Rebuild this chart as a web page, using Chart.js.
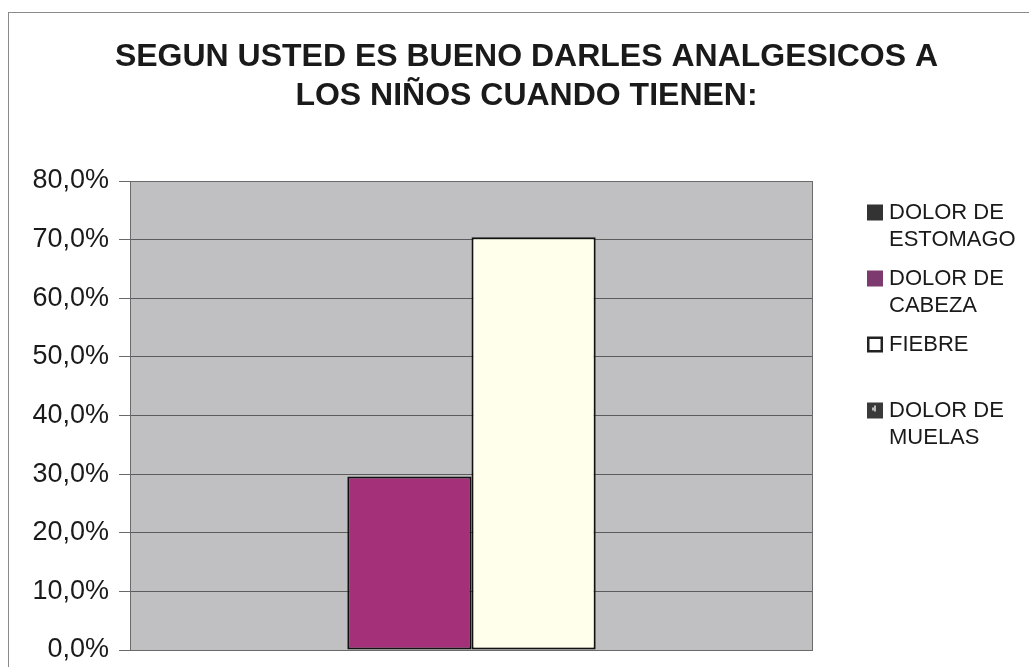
<!DOCTYPE html>
<html>
<head>
<meta charset="utf-8">
<script src="https://cdn.jsdelivr.net/npm/chart.js@4/dist/chart.umd.min.js"></script>
<style>
  html, body { margin: 0; padding: 0; background: #fff; overflow: hidden; }
  #frame {
    position: absolute; left: 8px; top: 12px;
    width: 1035px; height: 700px;
    border: 1px solid #8a8a8a;
    background: #fff;
  }
  canvas { display: block; }
</style>
</head>
<body>
<div id="frame"><canvas id="myChart" width="1035" height="667"></canvas></div>
<script>
const titleLines = ["SEGUN USTED ES BUENO DARLES ANALGESICOS A", "LOS NIÑOS CUANDO TIENEN:"];
const categories = [""];
const seriesNames = ["DOLOR DE ESTOMAGO", "DOLOR DE CABEZA", "FIEBRE", "DOLOR DE MUELAS"];
const seriesValues = [[0], [29.6], [70.4], [0]];
const seriesColors = ["#333333", "#a5307a", "#ffffeb", "#3a3a3a"];
const legendColors = ["#333333", "#7d3a6e", "#ffffff", "#3a3a3a"];
const yTicks = [0, 10, 20, 30, 40, 50, 60, 70, 80];

const FONT = "'Liberation Sans', Arial, Helvetica, sans-serif";

// gray plot area + frame around it
const plotBg = {
  id: "plotBg",
  beforeDraw(chart) {
    const { ctx, chartArea: a } = chart;
    ctx.save();
    ctx.fillStyle = "#c0c0c3";
    ctx.fillRect(a.left, a.top, a.right - a.left, a.bottom - a.top);
    ctx.restore();
  },
  beforeDatasetsDraw(chart) {
    const { ctx, chartArea: a } = chart;
    ctx.save();
    ctx.strokeStyle = "#6a6a6a";
    ctx.lineWidth = 1;
    ctx.strokeRect(a.left + 0.5, a.top + 0.5, a.right - a.left - 1, a.bottom - a.top);
    ctx.restore();
  }
};

// legend on the right, wrapped like the original
function wrapText(ctx, text, maxW) {
  const words = text.split(" ");
  const lines = [];
  let cur = "";
  for (const w of words) {
    const t = cur ? cur + " " + w : w;
    if (ctx.measureText(t).width > maxW && cur) {
      lines.push(cur);
      cur = w;
    } else {
      cur = t;
    }
  }
  if (cur) lines.push(cur);
  return lines;
}

const sideLegend = {
  id: "sideLegend",
  afterDraw(chart) {
    const ctx = chart.ctx;
    const x0 = 858, y0 = 199.5, step = 66, lineH = 27.5;
    ctx.save();
    ctx.font = "22px " + FONT;
    ctx.textBaseline = "middle";
    ctx.textAlign = "left";
    chart.data.datasets.forEach((ds, i) => {
      const y = y0 + i * step;
      ctx.fillStyle = legendColors[i];
      ctx.fillRect(x0, y - 8, 16, 16);
      if (i === 2) {
        ctx.strokeStyle = "#222";
        ctx.lineWidth = 2.5;
        ctx.strokeRect(x0 + 1.25, y - 6.75, 13.5, 13.5);
      }
      if (i === 3) {
        ctx.fillStyle = "#bbb";
        ctx.fillRect(x0 + 5, y - 3, 4, 3);
        ctx.fillRect(x0 + 7, y - 5, 2, 6);
      }
      ctx.fillStyle = "#1a1a1a";
      const lines = wrapText(ctx, ds.label, 135);
      lines.forEach((ln, k) => ctx.fillText(ln, x0 + 22, y + k * lineH));
    });
    ctx.restore();
  }
};

new Chart("myChart", {
  type: "bar",
  data: {
    labels: categories,
    datasets: seriesNames.map((name, i) => ({
      label: name,
      data: seriesValues[i],
      backgroundColor: seriesColors[i],
      borderColor: "#111",
      borderWidth: (c) => (c.raw > 0 ? 2 : 0),
      borderSkipped: false,
      categoryPercentage: 4 / 5.5,
      barPercentage: 1,
    })),
  },
  options: {
    responsive: false,
    animation: false,
    layout: { padding: { left: 0, right: 0, top: 0, bottom: 30 } },
    plugins: {
      legend: { display: false },
      tooltip: { enabled: false },
      title: {
        display: true,
        text: titleLines,
        color: "#1a1a1a",
        font: { family: FONT, size: 32, weight: "bold", lineHeight: 39 / 32 },
        padding: { top: 25, bottom: 65 },
      },
    },
    scales: {
      x: { display: false },
      y: {
        min: 0,
        max: 80,
        afterBuildTicks: (axis) => {
          axis.ticks = yTicks.map((v) => ({ value: v }));
        },
        afterFit: (axis) => {
          axis.width = 121;
        },
        border: { display: true, color: "#6a6a6a", width: 1 },
        grid: { color: "#5c5c5c", lineWidth: 1, drawTicks: true, tickLength: 11, tickColor: "#6a6a6a" },
        ticks: {
          padding: 10,
          color: "#1a1a1a",
          font: { family: FONT, size: 27 },
          callback: (v) => v.toFixed(1).replace(".", ",") + "%",
        },
      },
      // empty right-hand axis that only reserves room for the legend
      side: {
        position: "right",
        display: true,
        grid: { display: false },
        border: { display: false },
        ticks: { display: false },
        afterFit: (axis) => {
          axis.width = 231;
        },
      },
    },
  },
  plugins: [plotBg, sideLegend],
});
</script>
</body>
</html>
